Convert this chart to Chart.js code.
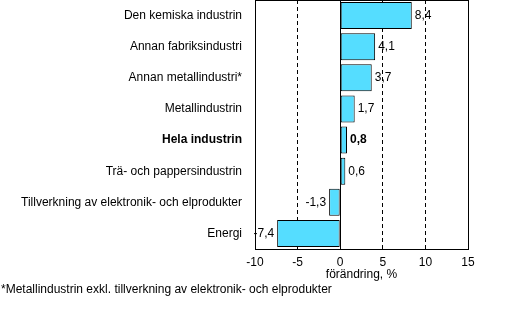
<!DOCTYPE html>
<html><head><meta charset="utf-8">
<script src="https://cdn.jsdelivr.net/npm/chart.js@4/dist/chart.umd.min.js"></script>
<style>html,body{margin:0;padding:0;background:#fff}#wrap{width:525px;height:311px;position:relative}</style>
</head><body><div id="wrap"><canvas id="c" width="525" height="311"></canvas></div>
<script>
const categories = ["Den kemiska industrin","Annan fabriksindustri","Annan metallindustri*","Metallindustrin","Hela industrin","Trä- och pappersindustrin","Tillverkning av elektronik- och elprodukter","Energi"];
const values = [8.4, 4.1, 3.7, 1.7, 0.8, 0.6, -1.3, -7.4];
const xTicks = [-10, -5, 0, 5, 10, 15];
const axisTitle = "förändring, %";
const footnote = "*Metallindustrin exkl. tillverkning av elektronik- och elprodukter";
const boldIndex = 4;
const FONT = "'Liberation Sans', Arial, sans-serif";

const extras = {
  id: 'extras',
  afterDatasetsDraw(chart) {
    const {ctx, chartArea: a, scales: {x, y}} = chart;
    ctx.save();
    const x0 = Math.round(x.getPixelForValue(0)) + 0.5;
    ctx.strokeStyle = '#000'; ctx.lineWidth = 1; ctx.setLineDash([]);
    ctx.beginPath(); ctx.moveTo(x0, a.top); ctx.lineTo(x0, a.bottom); ctx.stroke();
    ctx.strokeRect(Math.round(a.left) + 0.5, Math.round(a.top) + 0.5, Math.round(a.right - a.left), Math.round(a.bottom - a.top));
    const meta = chart.getDatasetMeta(0);
    ctx.fillStyle = '#000'; ctx.textBaseline = 'middle';
    meta.data.forEach((bar, i) => {
      const v = values[i];
      ctx.font = (i === boldIndex ? 'bold ' : '') + '12px ' + FONT;
      const txt = v.toFixed(1).replace('.', ',');
      if (v >= 0) { ctx.textAlign = 'left'; ctx.fillText(txt, bar.x + 3, bar.y); }
      else { ctx.textAlign = 'right'; ctx.fillText(txt, bar.x - 3, bar.y); }
    });
    ctx.font = '12px ' + FONT;
    ctx.textAlign = 'center';
    ctx.fillText(axisTitle, (a.left + a.right) / 2, 275);
    ctx.textAlign = 'left';
    ctx.fillText(footnote, 1, 290);
    ctx.restore();
  }
};

new Chart(document.getElementById('c'), {
  type: 'bar',
  data: { labels: categories, datasets: [{ data: values, backgroundColor: '#55DDFF', borderColor: '#000', borderWidth: 1, borderSkipped: false, barPercentage: 0.87, categoryPercentage: 1 }] },
  options: {
    indexAxis: 'y', responsive: false, animation: false,
    layout: { padding: { top: 0, right: 57, bottom: 0, left: 0 } },
    plugins: { legend: { display: false }, tooltip: { enabled: false }, title: { display: false } },
    scales: {
      x: {
        min: -10, max: 15,
        afterBuildTicks: s => { s.ticks = xTicks.map(v => ({ value: v })); },
        afterFit: s => { s.height = 62; s.paddingLeft = 0; s.paddingRight = 0; },
        ticks: { color: '#000', padding: 6, font: { size: 12, family: FONT }, callback: v => String(v) },
        grid: { color: '#000', drawTicks: false, tickLength: 0 },
        border: { display: false, dash: [4, 3] }
      },
      y: {
        afterFit: s => { s.width = 255; s.paddingTop = 0; s.paddingBottom = 0; },
        grid: { display: false, drawTicks: false },
        border: { display: false },
        ticks: { color: '#000', padding: 13, font: ctx => ({ size: 12, family: FONT, weight: ctx.index === boldIndex ? 'bold' : 'normal' }) }
      }
    }
  },
  plugins: [extras]
});
</script></body></html>
